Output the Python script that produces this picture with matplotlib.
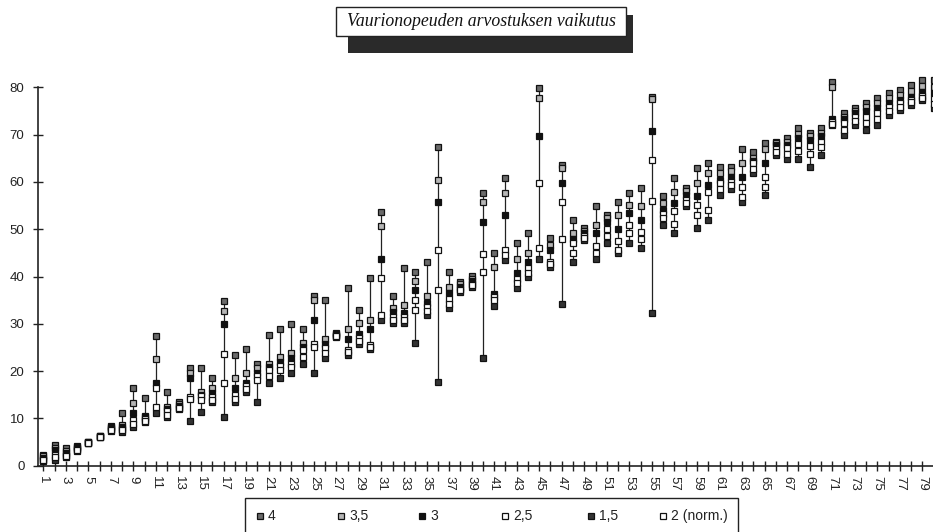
import matplotlib
matplotlib.use('Agg')
import matplotlib.pyplot as plt
from matplotlib.patches import Rectangle
from matplotlib.lines import Line2D
import numpy as np

plt.rcParams['font.family'] = ['Liberation Sans', 'DejaVu Sans']

categories = list(range(1, 81))
tick_labels = [str(c) if c % 2 == 1 else '' for c in categories]
series_names = ['4', '3,5', '3', '2,5', '1,5', '2 (norm.)']
title_text = 'Vaurionopeuden arvostuksen vaikutus'

s4 = [2.3, 4.4, 3.7, 4.2, 5.1, 6.3, 8.4, 11.2, 16.4, 14.4,
      27.5, 15.5, 13.5, 20.6, 20.6, 18.5, 34.9, 23.4, 24.6, 21.6,
      27.6, 28.8, 29.9, 28.8, 35.9, 35.0, 28.0, 37.6, 32.9, 39.7,
      53.6, 35.9, 41.7, 40.9, 43.0, 67.4, 40.9, 38.9, 40.1, 57.7,
      44.9, 60.8, 47.0, 49.1, 79.8, 48.1, 63.6, 51.9, 50.2, 55.0,
      53.0, 55.8, 57.7, 58.8, 78.0, 57.0, 60.8, 58.8, 62.9, 63.9,
      63.2, 63.2, 66.9, 66.4, 68.3, 68.5, 69.2, 71.3, 70.4, 71.3,
      81.2, 74.5, 75.6, 76.6, 77.7, 78.7, 79.4, 80.5, 81.5, 81.5]
s35 = [2.0, 3.8, 3.2, 4.0, 5.0, 6.2, 8.2, 8.6, 13.3, 10.6,
       22.6, 12.5, 13.0, 19.5, 15.6, 16.4, 32.7, 18.5, 19.5, 20.6,
       21.6, 23.0, 23.8, 25.9, 35.0, 26.7, 27.8, 28.8, 30.1, 30.8,
       50.7, 33.3, 34.0, 39.0, 35.9, 60.4, 37.8, 38.4, 39.5, 55.8,
       42.0, 57.7, 43.8, 44.9, 77.7, 46.7, 62.9, 49.1, 49.6, 50.9,
       52.3, 53.0, 55.1, 55.0, 77.5, 55.5, 57.9, 58.0, 59.7, 61.8,
       61.8, 62.2, 63.9, 65.0, 66.9, 68.2, 68.4, 70.2, 69.6, 70.4,
       80.1, 73.8, 75.0, 75.8, 76.6, 77.7, 78.4, 79.2, 80.3, 80.1]
s3 = [1.6, 3.3, 2.6, 3.7, 5.0, 6.2, 7.9, 8.2, 11.2, 10.2,
      17.4, 12.0, 12.6, 18.5, 15.0, 15.3, 29.9, 16.4, 17.5, 19.5,
      20.9, 22.0, 22.7, 25.2, 30.8, 25.8, 27.6, 26.7, 27.8, 28.8,
      43.6, 32.5, 32.2, 37.1, 34.3, 55.7, 36.5, 37.8, 39.0, 51.6,
      36.4, 52.9, 40.7, 43.0, 69.7, 45.5, 59.7, 48.0, 49.1, 49.1,
      51.6, 50.0, 53.4, 51.9, 70.8, 54.1, 55.5, 57.2, 57.0, 59.3,
      60.5, 61.0, 61.1, 64.5, 63.9, 67.8, 67.8, 69.2, 68.9, 69.6,
      73.2, 73.2, 74.5, 75.0, 75.6, 76.6, 77.3, 78.0, 79.1, 78.7]
s25 = [1.3, 2.3, 2.3, 3.5, 4.9, 6.1, 7.7, 7.8, 9.7, 9.8,
       16.4, 11.5, 12.3, 14.5, 14.7, 14.5, 23.6, 15.0, 16.8, 19.0,
       20.2, 21.0, 21.6, 24.5, 25.7, 24.8, 27.5, 24.5, 27.0, 25.5,
       39.7, 31.5, 31.5, 35.0, 33.5, 45.7, 35.2, 37.4, 38.5, 44.7,
       35.6, 45.7, 39.5, 41.7, 59.7, 43.1, 55.8, 47.0, 48.6, 46.5,
       50.0, 47.5, 50.9, 49.5, 64.6, 53.2, 53.9, 56.2, 55.1, 57.9,
       59.8, 60.0, 59.0, 63.9, 61.1, 67.0, 67.1, 68.0, 67.5, 68.5,
       72.7, 72.4, 73.8, 73.8, 74.5, 75.8, 76.6, 77.3, 78.2, 77.5]
s15 = [1.0, 1.2, 1.9, 3.1, 4.8, 6.0, 7.3, 7.2, 8.2, 9.2,
       11.2, 10.2, 12.0, 9.5, 11.3, 13.5, 10.2, 13.5, 15.6, 13.5,
       17.4, 18.5, 19.5, 21.6, 19.5, 22.8, 27.3, 23.4, 25.7, 24.6,
       30.8, 30.1, 30.1, 25.9, 31.9, 17.6, 33.3, 36.8, 37.8, 22.8,
       33.8, 43.5, 37.5, 40.0, 43.8, 42.1, 34.1, 43.1, 47.7, 43.8,
       47.0, 44.9, 47.1, 46.1, 32.2, 50.9, 49.3, 55.0, 50.2, 51.9,
       57.2, 58.6, 55.8, 61.8, 57.2, 65.7, 64.8, 64.8, 63.1, 65.7,
       72.0, 69.9, 72.0, 71.0, 72.0, 74.1, 75.2, 76.3, 77.3, 75.6]
s2 = [1.2, 1.8, 2.1, 3.3, 4.9, 6.1, 7.5, 7.5, 8.9, 9.5,
      12.5, 10.8, 12.1, 14.0, 13.8, 13.8, 17.5, 14.2, 16.2, 18.2,
      19.0, 20.2, 20.9, 23.0, 25.0, 23.8, 27.4, 24.0, 26.4, 25.0,
      31.9, 30.8, 30.8, 33.0, 32.8, 37.1, 34.2, 37.1, 38.1, 41.0,
      35.0, 44.5, 38.7, 40.8, 46.0, 42.6, 47.9, 45.0, 48.2, 44.9,
      48.5, 45.6, 49.1, 47.9, 56.0, 52.3, 51.0, 55.5, 53.0, 54.1,
      58.5, 59.3, 56.9, 62.8, 59.0, 66.3, 66.0, 66.5, 65.8, 67.4,
      72.3, 71.0, 72.9, 72.4, 73.2, 74.9, 75.9, 76.8, 77.7, 76.5]

series_values = [s4, s35, s3, s25, s15, s2]
face_colors = ['#6a6a6a', '#b5b5b5', '#111111', '#ffffff', '#333333', '#ffffff']

fig = plt.figure(figsize=(9.33, 5.32), dpi=100)
fig.patch.set_facecolor('white')
W, H = 933.0, 532.0
ax = fig.add_axes([37.7 / W, 1 - 465.7 / H, 901.6 / W, 378.4 / H])

x = np.array(categories)
allv = np.array(series_values)
ax.vlines(x, allv.min(axis=0), allv.max(axis=0), color='#222222', lw=0.9, zorder=2, clip_on=False)
for vals, fc in zip(series_values, face_colors):
    ax.plot(x, vals, linestyle='none', marker='s', markersize=4.4,
            markerfacecolor=fc, markeredgecolor='#111111', markeredgewidth=0.9,
            zorder=3, clip_on=False)

ax.set_xlim(0.5, 80.5)
ax.set_ylim(0, 80)
for sp in ['top', 'right']:
    ax.spines[sp].set_visible(False)
for sp in ['left', 'bottom']:
    ax.spines[sp].set_linewidth(1.2)
    ax.spines[sp].set_color('#222222')
ax.set_xticks(x)
ax.set_xticklabels(tick_labels, rotation=270, fontsize=9.5, color='#222222')
ax.set_yticks(range(0, 81, 10))
ax.set_yticklabels([str(v) for v in range(0, 81, 10)], fontsize=9.5, color='#222222')
ax.tick_params(axis='both', direction='inout', length=7, width=1.0, color='#222222')
ax.tick_params(axis='x', pad=4)
ax.tick_params(axis='y', pad=6)
ax.set_facecolor('none')

# title box with shadow
fig.patches.append(Rectangle((348 / W, 1 - 53 / H), (633 - 348) / W, (53 - 15) / H,
                             transform=fig.transFigure, facecolor='#2a2a2a', edgecolor='none', zorder=1))
fig.patches.append(Rectangle((336 / W, 1 - 36 / H), (626 - 336) / W, (36 - 7) / H,
                             transform=fig.transFigure, facecolor='white', edgecolor='#222222', lw=1.0, zorder=2))
fig.text(481 / W, 1 - 21.5 / H, title_text, ha='center', va='center', fontsize=12.8,
         family=['Liberation Serif', 'DejaVu Serif'], style='italic', color='#111111', zorder=3)

# legend box
fig.patches.append(Rectangle((245 / W, -0.05), (738 - 245) / W, 1 - 498 / H + 0.05,
                             transform=fig.transFigure, facecolor='white', edgecolor='#222222', lw=1.0, zorder=2))
leg_x = [260, 341, 422, 505, 591, 663]
for px, name, fc in zip(leg_x, series_names, face_colors):
    fig.add_artist(Line2D([px / W], [1 - 516 / H], transform=fig.transFigure, marker='s',
                          markersize=4.4, markerfacecolor=fc, markeredgecolor='#111111',
                          markeredgewidth=0.9, linestyle='none', zorder=3))
    fig.text((px + 8) / W, 1 - 516 / H, name, ha='left', va='center', fontsize=10,
             color='#222222', zorder=3)

fig.savefig('out.png', dpi=100, facecolor='white')
